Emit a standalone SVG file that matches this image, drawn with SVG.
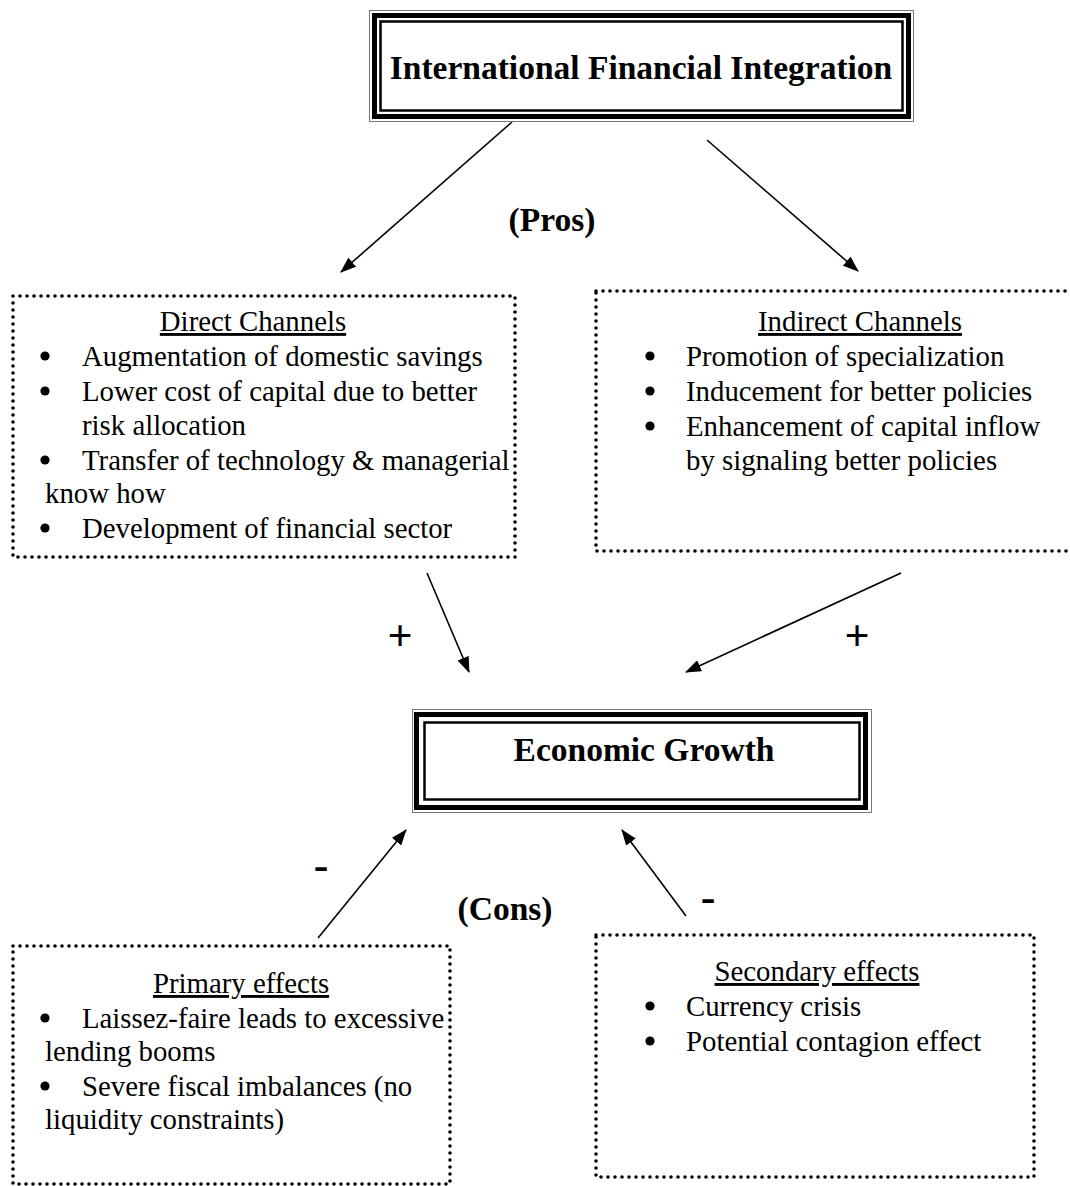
<svg xmlns="http://www.w3.org/2000/svg" width="1070" height="1186" viewBox="0 0 1070 1186">
<style>
.t{font-family:"Liberation Serif","Times New Roman",serif;font-size:28.8px;fill:#000}
.h{font-family:"Liberation Serif","Times New Roman",serif;font-size:33.5px;font-weight:bold;fill:#000;text-anchor:middle}
.u{text-anchor:middle;text-decoration:underline}
.dot{fill:none;stroke:#000;stroke-width:3.6;stroke-dasharray:0 7;stroke-linecap:round}
.o1{fill:none;stroke:#777;stroke-width:1}
.o2{fill:none;stroke:#000;stroke-width:5}
.o3{fill:none;stroke:#000;stroke-width:2.5}
.c{stroke:#000;stroke-width:1.6;fill:none;marker-end:url(#ah)}
.s{font-family:"Liberation Serif","Times New Roman",serif;font-size:44px;font-weight:bold;fill:#000;text-anchor:middle}
.bl{fill:#000}
</style>
<defs>
<marker id="ah" viewBox="0 0 16 12" refX="15" refY="6" markerWidth="16" markerHeight="12" markerUnits="userSpaceOnUse" orient="auto">
<path d="M0,0 L16,6 L0,12 Z" fill="#000"/>
</marker>
</defs>
<rect width="1070" height="1186" fill="#fff"/>

<g id="connectors">
<line class="c" x1="512" y1="122" x2="341" y2="272"/>
<line class="c" x1="707" y1="140" x2="858" y2="271"/>
<line class="c" x1="427" y1="573" x2="469" y2="672"/>
<line class="c" x1="901" y1="573" x2="686" y2="672"/>
<line class="c" x1="318" y1="938" x2="406" y2="830"/>
<line class="c" x1="686" y1="916" x2="622" y2="830"/>
</g>

<g id="labels">
<text class="h" x="552" y="231">(Pros)</text>
<text class="h" x="505" y="920">(Cons)</text>
<text class="s" x="400" y="650">+</text>
<text class="s" x="857" y="650">+</text>
<text class="s" x="321" y="880">-</text>
<text class="s" x="708" y="912">-</text>
</g>

<g id="ifi">
<rect class="o1" x="369.5" y="10.5" width="544" height="111"/>
<rect class="o2" x="374.5" y="15.5" width="534" height="101"/>
<rect class="o3" x="380.5" y="21.5" width="522" height="89"/>
<text class="h" x="641" y="79">International Financial Integration</text>
</g>

<g id="growth">
<rect class="o1" x="412.5" y="709.5" width="459" height="103"/>
<rect class="o2" x="416.5" y="714.5" width="449" height="93"/>
<rect class="o3" x="424.5" y="722.5" width="435" height="77"/>
<text class="h" x="644" y="761">Economic Growth</text>
</g>

<g id="direct">
<rect class="dot" x="13" y="296" width="502" height="261"/>
<text class="t u" x="253" y="331">Direct Channels</text>
<circle class="bl" cx="45" cy="356" r="4.6"/>
<text class="t" x="82" y="366">Augmentation of domestic savings</text>
<circle class="bl" cx="45" cy="391" r="4.6"/>
<text class="t" x="82" y="401">Lower cost of capital due to better</text>
<text class="t" x="82" y="435">risk allocation</text>
<circle class="bl" cx="45" cy="460" r="4.6"/>
<text class="t" x="82" y="470">Transfer of technology &amp; managerial</text>
<text class="t" x="45" y="503">know how</text>
<circle class="bl" cx="45" cy="528" r="4.6"/>
<text class="t" x="82" y="538">Development of financial sector</text>
</g>

<g id="indirect">
<rect class="dot" x="596" y="291" width="490" height="260"/>
<text class="t u" x="860" y="331">Indirect Channels</text>
<circle class="bl" cx="650" cy="356" r="4.6"/>
<text class="t" x="686" y="366">Promotion of specialization</text>
<circle class="bl" cx="650" cy="391" r="4.6"/>
<text class="t" x="686" y="401">Inducement for better policies</text>
<circle class="bl" cx="650" cy="426" r="4.6"/>
<text class="t" x="686" y="436">Enhancement of capital inflow</text>
<text class="t" x="686" y="470">by signaling better policies</text>
</g>

<g id="primary">
<rect class="dot" x="13" y="946" width="437" height="238"/>
<text class="t u" x="241" y="993">Primary effects</text>
<circle class="bl" cx="45" cy="1018" r="4.6"/>
<text class="t" x="82" y="1028">Laissez-faire leads to excessive</text>
<text class="t" x="45" y="1061">lending booms</text>
<circle class="bl" cx="45" cy="1086" r="4.6"/>
<text class="t" x="82" y="1096">Severe fiscal imbalances (no</text>
<text class="t" x="45" y="1129">liquidity constraints)</text>
</g>

<g id="secondary">
<rect class="dot" x="596" y="935" width="438" height="242"/>
<text class="t u" x="817" y="981">Secondary effects</text>
<circle class="bl" cx="650" cy="1006" r="4.6"/>
<text class="t" x="686" y="1016">Currency crisis</text>
<circle class="bl" cx="650" cy="1041" r="4.6"/>
<text class="t" x="686" y="1051">Potential contagion effect</text>
</g>
</svg>
